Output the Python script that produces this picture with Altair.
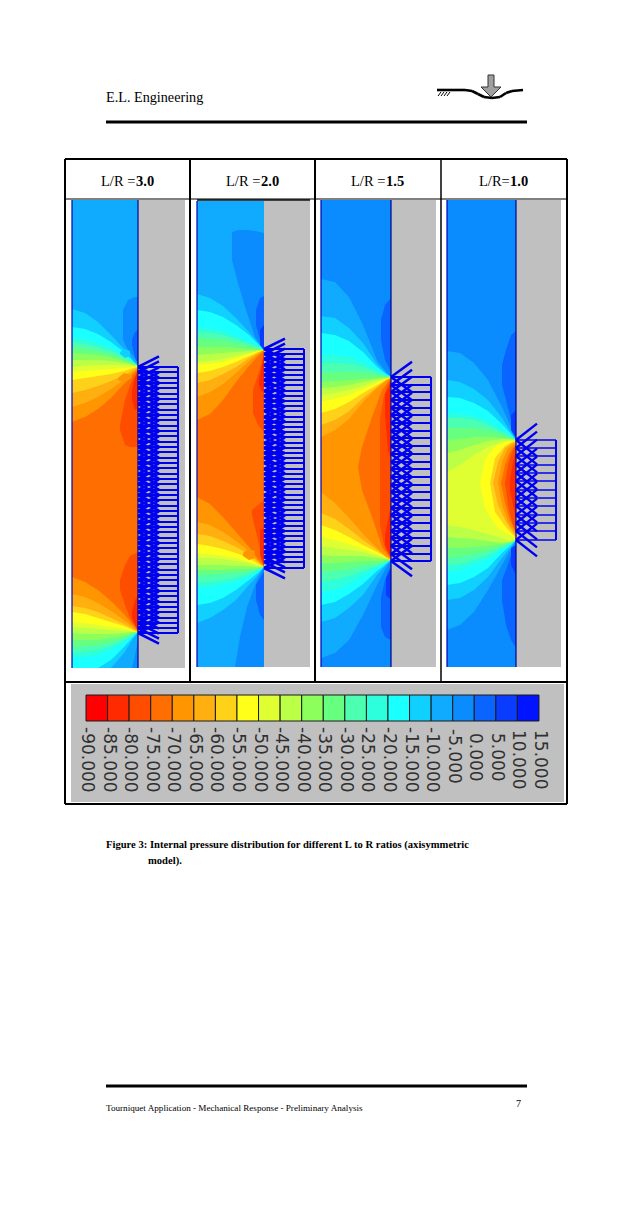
import altair as alt
import pandas as pd

PALETTE = ["#ff0000","#ff2a00","#ff4d00","#ff6e00","#ff9500","#ffb010","#ffd21a","#ffff1a","#e0ff33","#bcff47",
           "#8cff5c","#66ff80","#4dffb0","#2dffdc","#1affff","#10d0ff","#10aaff","#0a8cff","#0a64ff","#0a3cff","#0014ff"]
LEVELS = ["-90.000","-85.000","-80.000","-75.000","-70.000","-65.000","-60.000","-55.000","-50.000","-45.000","-40.000",
          "-35.000","-30.000","-25.000","-20.000","-15.000","-10.000","-5.000","0.000","5.000","10.000","15.000"]

# ---- contour bands: level -> (upper contour, lower contour)
P1_X = [72,85,98,111,124,133,138]
P1 = {
 15:([309,313,322,335,349,360,366],[668,668,668,668,653,639,632]),
 14:([327,329,334,342,352,361,366],[668,668,668,660,647,637,632]),
 13:([337,339,343,348,355,362,366],[657,657,655,650,642,636,632]),
 12:([342,344,347,351,357,362,366],[653,652,650,646,640,635,632]),
 11:([347,349,351,354,359,363,366],[647,646,645,642,638,634,632]),
 10:([353,354,355,357,361,364,366],[640,640,640,638,636,633,632]),
 9:([360,360,360,361,363,365,366],[633,634,634,634,633,632,632]),
 8:([367,366,365,365,365,366,366],[627,628,629,630,631,632,632]),
 7:([372,371,370,369,368,367,366],[622,623,625,627,629,631,632]),
 6:([380,378,376,374,371,368,367],[612,614,618,622,626,630,632]),
 5:([393,390,386,381,375,370,367],[606,608,612,618,624,629,632]),
 4:([407,403,397,389,380,372,368],[594,597,603,611,620,627,632]),
 3:([422,417,409,398,384,374,369],[577,582,590,601,614,625,631]),
}
P1_EXTRA = [
 (17,[123,128,135,138],[310,300,297,297],[340,350,358,364]),
 (18,[132,135,138],[340,332,330],[345,358,364]),
 (15,[120,125,130],[352,349,351],[354,358,356]),
 (17,[132,135,138],[668,655,640],[668,668,668]),
 (4,[118,124,132],[378,373,375],[380,383,378]),
 (2,[120,125,130,138],[425,400,385,370],[430,445,447,447]),
 (1,[132,135,138],[390,378,370],[400,410,408]),
 (2,[120,125,130,138],[580,565,556,552],[590,605,618,630]),
 (1,[132,135,138],[612,600,595],[618,625,631]),
]
P2_X = [197,210,223,236,249,258,264]
P2 = {
 15:([294,298,306,318,332,343,350],[623,618,610,600,585,575,567]),
 14:([310,312,317,325,335,344,350],[605,603,598,590,580,573,567]),
 13:([327,328,331,336,342,346,350],[588,587,585,582,577,571,567]),
 12:([332,333,335,339,344,347,350],[583,582,580,578,574,570,567]),
 11:([338,339,340,343,346,348,350],[575,575,574,573,571,569,567]),
 10:([347,347,347,348,349,350,350],[570,570,570,569,569,568,567]),
 9:([355,354,353,352,351,350,350],[565,565,565,566,566,567,567]),
 8:([362,361,359,356,353,351,350],[558,558,559,561,563,566,567]),
 7:([365,364,362,358,354,351,350],[553,554,556,558,562,565,567]),
 6:([373,371,367,362,356,352,350],[544,546,549,553,558,564,567]),
 5:([383,380,374,367,358,353,350],[534,536,541,547,554,562,567]),
 4:([397,392,384,373,361,354,350],[522,525,532,541,551,561,567]),
 3:([420,414,400,382,366,356,351],[497,504,517,532,547,559,566]),
}
P2_EXTRA = [
 (17,[232,238,246,255,264],[232,230,230,231,233],[260,283,310,337,350]),
 (18,[256,260,264],[310,298,296],[325,340,350]),
 (19,[260,264],[330,325],[345,350]),
 (17,[235,240,247,257,264],[667,637,607,580,567],[667,667,667,667,667]),
 (18,[256,260,264],[585,578,572],[600,615,620]),
 (4,[243,249,255],[553,549,551],[556,560,558]),
 (2,[253,258,264],[390,375,355],[413,425,432]),
 (1,[259,262,264],[380,365,352],[385,392,390]),
 (2,[252,258,264],[510,505,500],[515,540,565]),
 (1,[260,264],[530,528],[555,566]),
]
P3_X = [321,335,349,363,377,386,391]
P3 = {
 16:([279,282,297,325,360,372,377],[658,653,640,615,585,568,560]),
 15:([316,318,328,343,364,373,377],[622,618,608,595,575,565,560]),
 14:([333,335,341,352,367,374,377],[605,602,594,584,571,564,560]),
 13:([355,355,357,362,370,375,377],[593,590,584,576,568,563,560]),
 12:([363,363,364,367,372,376,377],[582,580,576,571,566,562,560]),
 11:([373,372,372,373,375,376,377],[572,571,569,566,564,562,560]),
 10:([382,381,380,379,378,377,377],[563,563,562,561,561,560,560]),
 9:([388,387,385,382,379,378,377],[555,556,556,556,558,559,560]),
 8:([395,393,390,386,381,379,377],[546,548,550,552,556,558,560]),
 7:([402,399,395,389,383,379,377],[537,540,544,549,554,558,560]),
 6:([413,409,402,393,385,380,377],[525,530,537,545,552,557,560]),
 5:([425,420,411,398,387,380,378],[513,519,529,540,550,557,560]),
 4:([437,430,419,402,388,381,378],[492,503,518,534,548,556,559]),
}
P3_EXTRA = [
 (3,[358,362,372,382,391],[467,447,417,390,378],[467,490,517,547,559]),
 (2,[380,384,388,391],[420,395,385,379],[525,545,553,558]),
 (1,[385,388,391],[395,388,380],[415,450,460]),
 (1,[385,388,391],[535,520,505],[545,552,557]),
 (18,[381,385,391],[320,305,298],[340,360,372]),
 (18,[381,385,391],[597,580,565],[627,637,640]),
 (19,[386,391],[578,568],[595,600]),
]
P4_X = [447,460,474,488,502,511,516]
P4 = {
 16:([351,353,363,380,407,427,440],[630,625,612,590,565,549,540]),
 15:([380,382,389,400,418,432,440],[600,598,590,577,558,547,540]),
 14:([397,398,403,411,424,434,440],[585,583,577,568,553,545,540]),
 13:([413,414,416,421,430,436,440],[572,570,565,559,549,544,540]),
 12:([418,418,420,425,432,437,440],[565,564,560,555,548,543,540]),
 11:([428,428,428,430,434,438,440],[558,557,554,551,546,543,540]),
 10:([440,439,437,437,438,439,440],[548,548,547,546,544,542,540]),
 9:([453,450,445,441,439,439,440],[537,538,539,541,543,542,540]),
 8:([472,465,455,447,442,440,440],[525,527,530,534,538,541,540]),
}
P4_EXTRA = [
 (7,[480,485,492,498,505,512,516],[483,460,450,445,442,441,441],[483,508,520,528,532,536,539]),
 (6,[490,495,505,512,516],[483,458,446,442,441],[483,512,526,534,538]),
 (5,[493,498,505,512,516],[483,462,448,443,442],[483,505,520,531,537]),
 (4,[498,502,508,516],[483,462,448,443],[483,505,522,535]),
 (3,[501,505,510,516],[483,465,452,444],[483,503,520,533]),
 (2,[505,508,512,516],[483,465,452,445],[483,505,522,532]),
 (1,[510,513,516],[480,462,450],[490,505,520]),
 (18,[502,506,511,516],[365,350,335,331],[385,400,420,436]),
 (19,[511,516],[415,410],[430,438]),
 (18,[502,506,511,516],[580,570,555,545],[600,625,640,648]),
 (19,[511,516],[548,545],[565,575]),
]
# ---- panels: left, wall, right, top, bottom, base level
PANELS = [
 (72,138,185,200,668,16,P1_X,P1,P1_EXTRA),
 (197,264,310,201,667,16,P2_X,P2,P2_EXTRA),
 (321,391,436,200,667,17,P3_X,P3,P3_EXTRA),
 (447,516,561,200,667,17,P4_X,P4,P4_EXTRA),
]
# ---- tourniquet rungs per panel
R1 = [367,372,378,383,388,394,399,404,410,415,420,426,431,436,442,447,452,458,463,468,474,479,484,490,495,500,506,511,516,522,527,532,538,543,548,554,559,564,570,575,580,586,591,596,602,607,612,618,623,628,633]
R2 = [349,354,359,365,370,375,380,385,391,396,401,406,411,417,422,427,432,437,443,448,453,458,463,469,474,479,484,489,495,500,505,510,515,521,526,531,536,541,547,552,557,562,568]
R3 = [377,385,392,400,408,415,423,431,438,446,454,462,469,477,485,492,500,508,515,523,531,538,546,554,561]
R4 = [440,448,456,465,473,481,490,498,506,515,523,531,540]
RUNGS = [(138,R1,10.6,2.0,2.6),(264,R2,10.4,2.0,2.6),(391,R3,15.2,1.8,2.6),(516,R4,16.4,1.6,2.4)]

rects, bands, lines = [], [], []
def rect(x,x2,y,y2,c): rects.append(dict(x=x,x2=x2,y=y,y2=y2,c=c))
def line(x,y,x2,y2,c="#000000",w=1.0): lines.append(dict(x=x,y=y,x2=x2,y2=y2,c=c,w=w))

rect(71,564,684,802,"#c0c0c0")
key = 0
for left,wall,right,top,bottom,base,xs,levels,extra in PANELS:
    rect(wall,right,top,bottom,"#c0c0c0")
    rect(left,wall,top,bottom,PALETTE[base])
    for lv,(up,lo) in levels.items():
        key += 1
        for x,a,b in zip(xs,up,lo):
            bands.append(dict(k=f"b{key:04d}",x=x,y=a,y2=b,c=PALETTE[lv]))
    for lv,ex,up,lo in extra:
        key += 1
        for x,a,b in zip(ex,up,lo):
            bands.append(dict(k=f"b{key:04d}",x=x,y=a,y2=b,c=PALETTE[lv]))
    line(left,top,left,bottom,"#0000b0",1.2)
    if wall != 264:
        line(wall,top,wall,bottom,"#000090",1.2)

for wall,rows,dy,wr,wd in RUNGS:
    for r in rows:
        line(wall,r,wall+40,r,"#0000f0",wr)
        line(wall,r,wall+21,r-dy,"#0000f0",wd)
        line(wall,r,wall+21,r+dy,"#0000f0",wd)
    line(wall+40,rows[0],wall+40,rows[-1],"#0000f0",2)

# frame and rules
FRAME_X = [190,315]
line(65,159,567,159,w=2); line(65,804,567,804,w=2); line(65,159,65,804,w=2); line(567,159,567,804,w=2)
line(65,199,567,199,w=1.2); line(65,682,567,682,w=2)
for x in FRAME_X: line(x,159,x,682,w=2)
line(441,159,441,682,w=1.5)
line(197,200,310,200,w=1.5)
line(106,122,527,122,w=3); line(106,1086,527,1086,w=3)

# logo
LOGO_X = [437,465,472,478,484,492,500,506,512,523]
LOGO_Y = [90,90,91,94,97,98,97,93,91,90]
for i in range(len(LOGO_X)-1):
    line(LOGO_X[i],LOGO_Y[i],LOGO_X[i+1],LOGO_Y[i+1],w=2.6)
for hx in [438,441,444,447]:
    line(hx,96,hx+3,92,w=1)
rect(488,494,75,87,"#a0a0a0")
bands += [dict(k="z9999",x=481,y=87,y2=87,c="#a0a0a0"),dict(k="z9999",x=491,y=87,y2=97,c="#a0a0a0"),dict(k="z9999",x=501,y=87,y2=87,c="#a0a0a0")]
line(488,75,494,75,"#303030",1); line(488,75,488,87,"#303030",1); line(494,75,494,87,"#303030",1)
line(481,87,488,87,"#303030",1); line(494,87,501,87,"#303030",1); line(481,87,491,97,"#303030",1); line(501,87,491,97,"#303030",1)

# colour bar
BAR_L, BAR_STEP = 86, 21.57
cells = [dict(x=BAR_L+i*BAR_STEP,x2=BAR_L+(i+1)*BAR_STEP,y=695,y2=721,c=PALETTE[i]) for i in range(21)]
START = {7:727,6:729,5:733}
cbl = [dict(t=t,x=BAR_L+1+i*BAR_STEP,y=(730 if t[:2] in("10","15") else START[len(t)])) for i,t in enumerate(LEVELS)]

SX = alt.Scale(domain=[8,624],nice=False,zero=False)
SY = alt.Scale(domain=[1201,8],nice=False,zero=False)
X = alt.X("x:Q",scale=SX,axis=None)
Y = alt.Y("y:Q",scale=SY,axis=None)
C = alt.Color("c:N",scale=None,legend=None)

l_rect = alt.Chart(pd.DataFrame(rects)).mark_rect().encode(X,Y,x2="x2:Q",y2="y2:Q",color=C)
l_band = alt.Chart(pd.DataFrame(bands)).mark_area(orient="vertical",interpolate="linear").encode(
    X,alt.Y("y:Q",scale=SY,axis=None,stack=None),y2="y2:Q",fill=alt.Fill("c:N",scale=None,legend=None),detail="k:N")
l_line = alt.Chart(pd.DataFrame(lines)).mark_rule().encode(X,Y,x2="x2:Q",y2="y2:Q",
    color=C,strokeWidth=alt.StrokeWidth("w:Q",scale=None,legend=None))
l_cell = alt.Chart(pd.DataFrame(cells)).mark_rect(stroke="#1a1a1a",strokeWidth=1).encode(X,Y,x2="x2:Q",y2="y2:Q",color=C)
l_lab = alt.Chart(pd.DataFrame(cbl)).mark_text(angle=90,align="left",baseline="middle",font="DejaVu Sans",fontSize=17,color="#303030").encode(X,Y,text="t:N")

def txt(rows,size,weight="normal",color="#000000"):
    return alt.Chart(pd.DataFrame(rows,columns=["t","x","y"])).mark_text(align="left",baseline="alphabetic",
        font="Liberation Serif",fontSize=size,fontWeight=weight,color=color).encode(X,Y,text="t:N")

HEAD = [("L/R =",101,186),("L/R =",226,186),("L/R =",351,186),("L/R=",479,186)]
HEAD_B = [("3.0",136,186),("2.0",261,186),("1.5",386,186),("1.0",510,186)]
CAPTION = [("Figure 3: Internal pressure distribution for different L to R ratios (axisymmetric",106,848),("model).",148,864)]
l_txt = [txt(HEAD,14.5),txt(HEAD_B,14.5,"bold"),txt(CAPTION,10.6,"bold"),
         txt([("E.L. Engineering",106,102)],14.2),
         txt([("Tourniquet Application - Mechanical Response - Preliminary Analysis",106,1111)],9.15),
         txt([("7",516,1107)],10)]

chart = alt.layer(l_rect,l_band,l_line,l_cell,l_lab,*l_txt).properties(
    width=616,height=1193,padding=0,autosize=alt.AutoSizeParams(type="none"),background="white"
).configure_view(stroke=None)
chart.save("out.html",embed_options={"renderer":"svg","actions":False})
